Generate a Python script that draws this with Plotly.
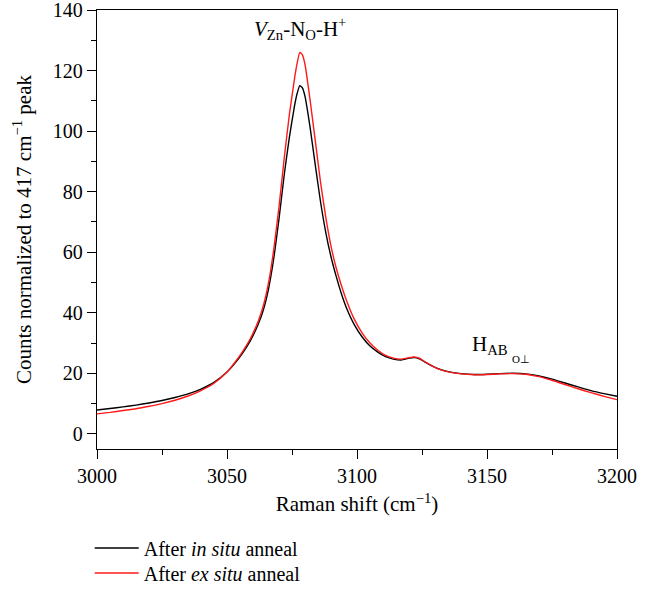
import plotly.graph_objects as go

# Raman shift (cm^-1) and normalized counts
shift_insitu = [3000, 3005, 3010, 3015, 3020, 3025, 3030, 3035, 3040, 3045, 3050, 3053, 3056, 3059, 3062,
                3064, 3066, 3068, 3070, 3072, 3074, 3076, 3077, 3078, 3079, 3080, 3082, 3084, 3086, 3088,
                3090, 3092, 3094, 3096, 3099, 3102, 3105, 3108, 3111, 3114, 3117, 3120, 3122, 3124, 3126,
                3129, 3132, 3136, 3140, 3145, 3150, 3155, 3160, 3165, 3170, 3175, 3180, 3185, 3190, 3195, 3200]
counts_insitu = [7.9, 8.4, 8.9, 9.5, 10.2, 11.0, 12.0, 13.2, 14.8, 17.0, 20.4, 23.3, 26.7, 30.8, 36.2,
                 41.0, 48.0, 58.0, 71.0, 85.5, 98.0, 108.5, 112.5, 115.0, 114.3, 111.5, 101.0, 88.5, 76.5, 66.5,
                 58.5, 52.0, 46.3, 41.5, 36.0, 32.0, 29.0, 27.0, 25.5, 24.7, 24.4, 25.0, 25.2, 24.8, 23.8,
                 22.4, 21.3, 20.4, 19.9, 19.6, 19.7, 19.9, 20.0, 19.8, 19.1, 18.1, 16.8, 15.5, 14.3, 13.3, 12.4]

shift_exsitu = shift_insitu
counts_exsitu = [6.6, 7.1, 7.7, 8.3, 9.1, 10.0, 11.1, 12.5, 14.3, 16.7, 20.4, 23.6, 27.2, 31.5, 37.2,
                 42.4, 50.0, 61.0, 75.0, 91.0, 105.5, 117.5, 122.5, 126.0, 125.2, 122.0, 110.0, 96.5, 83.0, 71.5,
                 62.0, 54.8, 49.0, 44.0, 37.8, 33.3, 30.0, 27.6, 25.9, 25.0, 24.7, 25.2, 25.4, 25.0, 23.9,
                 22.4, 21.2, 20.3, 19.8, 19.5, 19.6, 19.8, 19.9, 19.7, 18.9, 17.7, 16.3, 14.9, 13.6, 12.4, 11.3]

series_names = ["After <i>in situ</i> anneal", "After <i>ex situ</i> anneal"]
x_ticks = [3000, 3050, 3100, 3150, 3200]
y_ticks = [0, 20, 40, 60, 80, 100, 120, 140]

FONT = "Liberation Serif, Times New Roman, serif"

fig = go.Figure()
fig.add_trace(go.Scatter(x=shift_insitu, y=counts_insitu, mode="lines", name=series_names[0],
                         line=dict(color="black", width=1.4, shape="spline", smoothing=0.5),
                         legend="legend"))
fig.add_trace(go.Scatter(x=shift_exsitu, y=counts_exsitu, mode="lines", name=series_names[1],
                         line=dict(color="#ff1a1a", width=1.4, shape="spline", smoothing=0.5),
                         legend="legend2"))

axis_common = dict(showline=True, linecolor="black", linewidth=1.3, mirror=True,
                   ticks="outside", ticklen=9, tickwidth=1.2, tickcolor="black",
                   showgrid=False, zeroline=False, ticklabeloverflow="allow",
                   tickfont=dict(family=FONT, size=20, color="black"))

fig.update_xaxes(range=[3000, 3200], tickvals=x_ticks, ticktext=[str(v) for v in x_ticks],
                 minor=dict(dtick=25, ticks="outside", ticklen=5, tickwidth=1.2, tickcolor="black", showgrid=False),
                 title=dict(text="Raman shift (cm<sup>−1</sup>)", font=dict(family=FONT, size=21, color="black"),
                            standoff=10),
                 **axis_common)
fig.update_yaxes(range=[-5, 140], tickvals=y_ticks, ticktext=[str(v) for v in y_ticks],
                 minor=dict(dtick=10, ticks="outside", ticklen=5, tickwidth=1.2, tickcolor="black", showgrid=False),
                 title=dict(text="Counts normalized to 417 cm<sup>−1</sup> peak",
                            font=dict(family=FONT, size=21, color="black"), standoff=15),
                 **axis_common)

fig.add_annotation(x=3078.2, y=133.8, xref="x", yref="y", showarrow=False,
                   text="<i>V</i><sub>Zn</sub>-N<sub>O</sub>-H<sup>+</sup>",
                   font=dict(family=FONT, size=21, color="black"))
fig.add_annotation(x=3159.0, y=29.2, xref="x", yref="y", showarrow=False, xanchor="right",
                   text="H<sub>AB</sub>", font=dict(family=FONT, size=21, color="black"))
fig.add_annotation(x=3158.7, y=24.6, xref="x", yref="y", showarrow=False, xanchor="left",
                   text="O⊥", font=dict(family=FONT, size=11, color="black"))

legend_common = dict(x=-0.014, xanchor="left", yanchor="middle", bgcolor="rgba(0,0,0,0)",
                     font=dict(family=FONT, size=20, color="black"), itemwidth=44)

fig.update_layout(
    width=658, height=589,
    margin=dict(l=97, r=41, t=10, b=140, autoexpand=False),
    paper_bgcolor="white", plot_bgcolor="white",
    font=dict(family=FONT, size=20, color="black"),
    showlegend=True,
    legend=dict(y=-0.2255, **legend_common),
    legend2=dict(y=-0.2825, **legend_common),
)

fig.write_html("out.html")
